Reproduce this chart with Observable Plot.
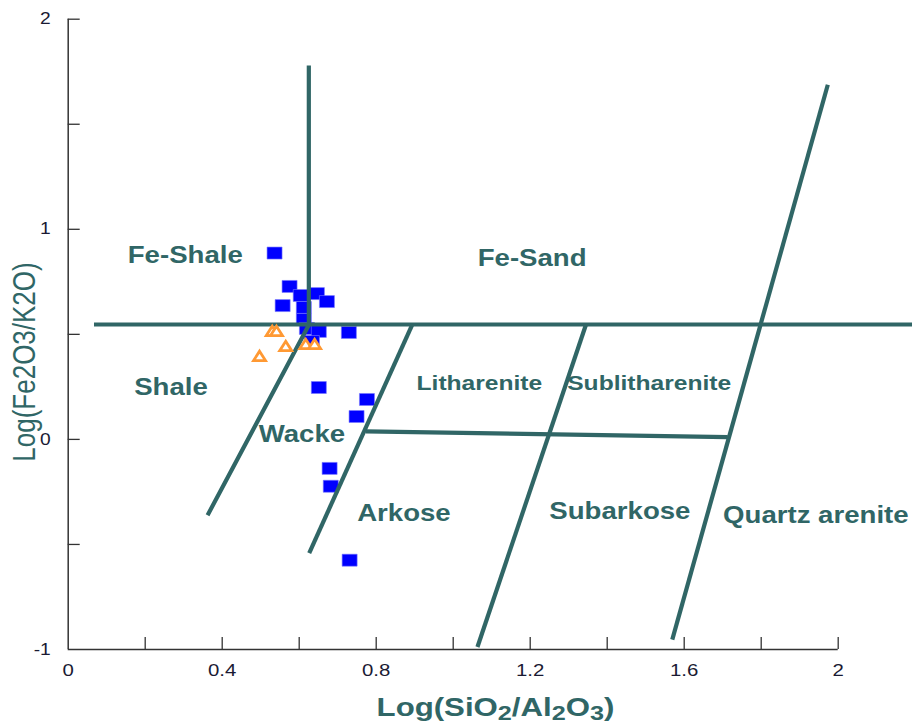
<!DOCTYPE html>
<html><head><meta charset="utf-8">
<script src="https://cdn.jsdelivr.net/npm/d3@7"></script>
<script src="https://cdn.jsdelivr.net/npm/@observablehq/plot@0.6"></script>
<style>body{margin:0;background:#fff} svg{display:block}</style>
</head><body><div id="chart"></div>
<script>
// ---- data ----
const squareX = [0.536, 0.575, 0.557, 0.604, 0.646, 0.672, 0.612, 0.612, 0.620, 0.651, 0.633, 0.729, 0.651, 0.776, 0.749, 0.679, 0.682, 0.731];
const squareY = [0.887, 0.728, 0.637, 0.685, 0.694, 0.656, 0.628, 0.571, 0.528, 0.514, 0.466, 0.509, 0.247, 0.190, 0.109, -0.138, -0.223, -0.575];
const triX = [0.530, 0.541, 0.565, 0.497, 0.617, 0.640];
const triY = [0.514, 0.514, 0.442, 0.395, 0.452, 0.452];

// classification boundaries (x, y in log units)
const feShaleBoundary = [[0.625, 1.78], [0.625, 0.545], [0.362, -0.361]];
const feBoundary = [[0.067, 0.547], [2.195, 0.547]];
const wackeArkose = [[0.894, 0.547], [0.626, -0.541]];
const lithArkose = [[0.773, 0.038], [1.713, 0.011]];
const sublithSubark = [[1.345, 0.547], [1.063, -0.988]];
const quartzBoundary = [[1.973, 1.688], [1.569, -0.953]];

const bigNames = ["Fe-Shale", "Fe-Sand", "Shale", "Wacke", "Arkose", "Subarkose"];
const bigX = [0.304, 1.205, 0.267, 0.607, 0.872, 1.433];
const bigY = [0.875, 0.861, 0.247, 0.024, -0.352, -0.346];
const smallNames = ["Litharenite", "Sublitharenite"];
const smallX = [1.068, 1.509];
const smallY = [0.266, 0.266];
const edgeNames = ["Quartz arenite"];
const edgeX = [1.701];
const edgeY = [-0.361];

const xMinorTicks = [0.2, 0.4, 0.6, 0.8, 1.0, 1.2, 1.4, 1.6, 1.8, 2.0];
const xTickLabels = [0, 0.4, 0.8, 1.2, 1.6, 2];
const yMinorTicks = [-0.5, 0, 0.5, 1, 1.5, 2];
const yTickLabels = [-1, 0, 1, 2];

// ---- build tables ----
const squares = squareX.map((x, i) => ({x, y: squareY[i]}));
const triangles = triX.map((x, i) => ({x, y: triY[i]}));
const boundaries = [feShaleBoundary, feBoundary, wackeArkose, lithArkose, sublithSubark, quartzBoundary]
  .flatMap((seg, k) => seg.map(([x, y]) => ({x, y, seg: k})));
const lab = (names, xs, ys) => names.map((t, i) => ({t, x: xs[i], y: ys[i]}));

const W = 912, H = 727, mL = 67.7, mR = 74.3, mT = 18.7, mB = 78;
const plotW = W - mL - mR, plotH = H - mT - mB;
const teal = "#306666";

const rectSymbol = {draw(ctx, size) { const s = Math.sqrt(size / Math.PI); const w = 2 * s, h = 1.6 * s; ctx.rect(-w / 2, -h / 2, w, h); }};
const triSymbol = {draw(ctx, size) { const s = Math.sqrt(size / Math.PI); ctx.moveTo(0, -s); ctx.lineTo(1.15 * s, 0.8 * s); ctx.lineTo(-1.15 * s, 0.8 * s); ctx.closePath(); }};

const svg = Plot.plot({
  width: W, height: H,
  marginLeft: mL, marginRight: mR, marginTop: mT, marginBottom: mB,
  x: {domain: [0, 2]},
  y: {domain: [-1, 2]},
  style: {fontFamily: "'Liberation Sans', Arial, sans-serif", background: "white", color: "#1a1a33", overflow: "visible"},
  marks: [
    Plot.ruleX([0], {stroke: "#333", strokeWidth: 1.5}),
    Plot.ruleY([-1], {stroke: "#333", strokeWidth: 1.5}),
    Plot.ruleX(xMinorTicks, {stroke: "#333", strokeWidth: 1.3, insetTop: plotH - 12}),
    Plot.ruleY(yMinorTicks, {stroke: "#333", strokeWidth: 1.3, insetRight: plotW - 12}),
    Plot.axisX({ticks: xTickLabels, tickSize: 0, tickPadding: 14, fontSize: 17, label: null, tickFormat: d => String(d)}),
    Plot.axisY({ticks: yTickLabels, tickSize: 0, tickPadding: 17.5, fontSize: 16, label: null, tickFormat: d => String(d)}),
    Plot.dot(squares, {x: "x", y: "y", symbol: rectSymbol, r: 7.5, fill: "#0000ff", stroke: "#7777ff", strokeWidth: 0.6}),
    Plot.line(boundaries, {x: "x", y: "y", z: "seg", stroke: teal, strokeWidth: 4.2, strokeLinecap: "butt", strokeLinejoin: "miter"}),
    Plot.dot(triangles, {x: "x", y: "y", symbol: triSymbol, r: 5.2, fill: "white", stroke: "#ff9933", strokeWidth: 2.8}),
    Plot.text(lab(bigNames, bigX, bigY), {x: "x", y: "y", text: "t", fontSize: 23, fontWeight: "bold", fill: teal}),
    Plot.text(lab(smallNames, smallX, smallY), {x: "x", y: "y", text: "t", fontSize: 20.5, fontWeight: "bold", fill: teal}),
    Plot.text(lab(edgeNames, edgeX, edgeY), {x: "x", y: "y", text: "t", fontSize: 23, fontWeight: "bold", fill: teal, textAnchor: "start"})
  ]
});

// horizontal stretch of all text (reference glyphs are ~1.2x wide)
d3.select(svg).selectAll("text").each(function () {
  const t = this.getAttribute("transform");
  if (t && t.includes("translate")) this.setAttribute("transform", t + " scale(1.2,1)");
});

// axis titles
const xTitleParts = [["Log(SiO", 0], ["2", 1], ["/Al", 0], ["2", 1], ["O", 0], ["3", 1], [")", 0]];
const xt = d3.select(svg).append("text")
  .attr("transform", "translate(495.5,716) scale(1.2,1)")
  .attr("text-anchor", "middle").attr("font-size", 26).attr("font-weight", "bold").attr("fill", teal);
let prev = 0;
for (const [s, sub] of xTitleParts) {
  const ts = xt.append("tspan").text(s).attr("dy", (sub - prev) * 4);
  if (sub) ts.attr("font-size", 21);
  prev = sub;
}
d3.select(svg).append("text")
  .attr("transform", "translate(35,362) scale(1.2,1) rotate(-90)")
  .attr("text-anchor", "middle").attr("font-size", 26).attr("fill", teal)
  .text("Log(Fe2O3/K2O)");

document.getElementById("chart").append(svg);
</script></body></html>
